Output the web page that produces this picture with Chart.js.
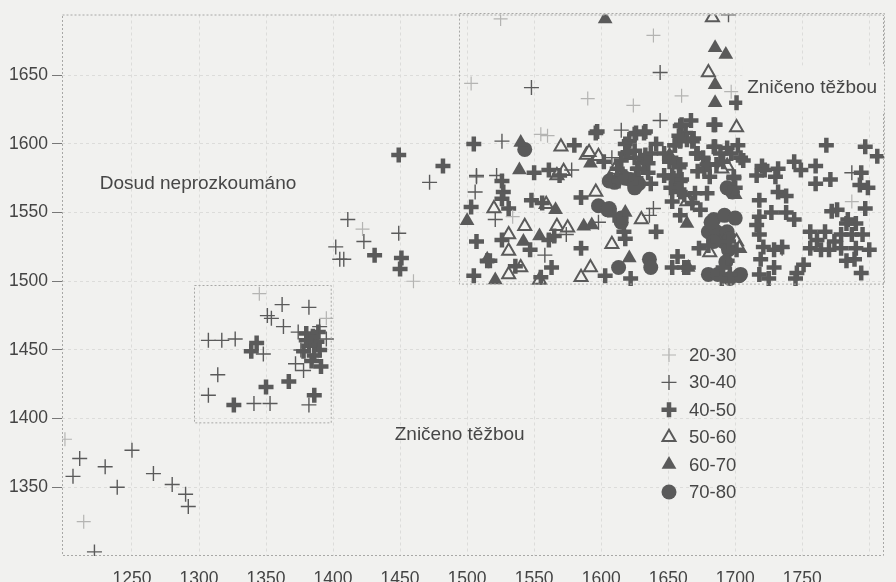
<!DOCTYPE html>
<html>
<head>
<meta charset="utf-8">
<script src="https://cdn.jsdelivr.net/npm/chart.js@4.4.0/dist/chart.umd.min.js"></script>
<style>
  body { margin: 0; background: #f1f1ef; }
  #wrap { width: 896px; height: 582px; }
</style>
</head>
<body>
<div id="wrap"><canvas id="chart" width="896" height="582"></canvas></div>
<script>
// tick labels
const xTicks = [1250, 1300, 1350, 1400, 1450, 1500, 1550, 1600, 1650, 1700, 1750, 1800];
const yTicks = [1350, 1400, 1450, 1500, 1550, 1600, 1650];

// categories (legend)
const classes = ['20-30', '30-40', '40-50', '50-60', '60-70', '70-80'];

// series values [x, y]
const s2030 = [
  [1200,1385],[1214,1325],[1345,1491],[1395,1473],[1422,1538],[1460,1500],
  [1525,1691],[1503,1644],[1590,1633],[1624,1628],[1660,1635],[1697,1638],
  [1639,1679],[1555,1607],[1560,1606],[1534,1547],[1787,1558]
];
const s3040 = [
  [1206,1358],[1211,1371],[1230,1365],[1250,1377],[1239,1350],[1266,1360],[1280,1352],
  [1290,1345],[1292,1336],[1222,1303],
  [1307,1417],[1341,1411],[1353,1411],[1362,1483],[1382,1481],[1351,1475],[1354,1473],
  [1363,1467],[1390,1467],[1307,1457],[1317,1457],[1327,1458],[1348,1447],[1314,1432],
  [1382,1410],[1374,1463],[1376,1450],[1372,1440],[1378,1435],[1395,1458],
  [1472,1572],[1507,1576],[1506,1565],[1411,1545],[1449,1535],[1402,1525],[1405,1516],
  [1408,1516],[1423,1529],
  [1695,1694],[1644,1652],[1548,1641],[1644,1617],[1615,1610],[1526,1602],[1608,1590],
  [1507,1577],[1522,1577],[1578,1581],[1787,1579],[1521,1545],[1639,1553],[1636,1548],
  [1574,1534],[1558,1519],[1598,1543],[1735,1524]
];
const s4050 = [
  [1326,1410],[1350,1423],[1367,1427],[1343,1455],[1339,1449],[1386,1417],
  [1380,1462],[1385,1460],[1388,1456],[1382,1453],[1390,1450],[1386,1446],[1378,1449],
  [1384,1442],[1391,1438],[1380,1457],[1389,1463],
  [1449,1592],[1482,1584],[1505,1600],[1503,1554],[1507,1529],[1517,1515],[1505,1504],
  [1431,1519],[1451,1517],[1450,1509],
  [1580,1599],[1596,1608],[1626,1608],[1632,1608],[1621,1602],[1659,1613],[1667,1617],
  [1663,1608],[1668,1602],[1659,1602],[1655,1599],[1685,1614],[1685,1598],[1694,1597],
  [1702,1599],[1704,1590],[1701,1630],[1768,1599],[1797,1598],[1806,1591],
  [1602,1587],[1618,1593],[1625,1590],[1632,1587],[1637,1593],[1647,1593],[1652,1590],
  [1659,1585],[1671,1593],[1676,1590],[1689,1593],[1697,1593],[1706,1588],[1686,1585],
  [1680,1585],[1720,1584],[1732,1582],[1744,1587],[1749,1581],[1760,1584],[1760,1571],
  [1771,1574],[1794,1579],[1793,1570],[1799,1568],[1797,1553],
  [1526,1573],[1527,1565],[1526,1560],[1550,1579],[1561,1581],[1569,1577],
  [1607,1574],[1613,1573],[1618,1576],[1626,1575],[1627,1582],[1635,1579],[1637,1571],
  [1647,1577],[1654,1575],[1659,1573],[1652,1568],[1659,1565],
  [1677,1582],[1681,1576],[1672,1580],
  [1699,1576],[1700,1568],[1716,1577],[1722,1581],[1730,1576],[1732,1565],[1718,1559],[1738,1562],
  [1531,1553],[1548,1559],[1556,1557],[1585,1561],[1610,1548],
  [1653,1558],[1662,1563],[1670,1564],[1679,1564],[1668,1557],[1674,1552],[1659,1548],
  [1718,1547],[1727,1550],[1738,1550],[1744,1545],[1716,1541],
  [1772,1551],[1776,1552],[1784,1545],[1790,1542],[1783,1542],
  [1526,1530],[1547,1523],[1561,1530],[1565,1533],[1585,1524],[1618,1531],[1617,1536],[1641,1536],
  [1673,1524],[1680,1526],[1695,1529],[1701,1523],
  [1718,1534],[1721,1525],[1729,1523],[1735,1525],
  [1756,1536],[1761,1530],[1767,1536],[1774,1529],[1756,1524],[1764,1523],[1770,1523],
  [1779,1534],[1787,1534],[1795,1534],[1779,1524],[1800,1523],[1790,1524],
  [1515,1515],[1536,1511],[1563,1510],[1555,1503],[1603,1504],[1622,1502],
  [1657,1518],[1653,1510],[1662,1510],[1665,1510],
  [1690,1502],[1696,1505],[1694,1515],[1691,1510],
  [1719,1516],[1729,1510],[1718,1505],[1725,1502],
  [1751,1512],[1746,1506],[1745,1502],[1789,1516],[1794,1506],[1783,1515],
  [1597,1609],[1625,1607],[1633,1609],[1618,1600],[1620,1594],[1625,1595],[1641,1600],
  [1615,1588],[1633,1592],[1635,1586],[1612,1582],[1628,1582],
  [1660,1614],[1658,1606],[1664,1603],[1669,1604],[1655,1599],[1672,1593],[1651,1587],
  [1658,1583],[1653,1577],[1660,1574],[1684,1614],[1684,1598],[1691,1587],[1679,1585],[1699,1575]
];
const s5060 = [
  [1683,1692],[1680,1652],[1701,1612],[1570,1598],[1589,1592],[1598,1591],[1591,1594],
  [1694,1584],[1690,1582],[1610,1581],[1567,1577],[1572,1580],[1520,1553],[1559,1556],
  [1596,1565],[1630,1545],[1664,1558],[1531,1534],[1543,1540],[1531,1522],[1567,1540],
  [1575,1539],[1608,1527],[1701,1529],[1703,1524],[1681,1521],[1540,1510],[1531,1505],
  [1585,1503],[1592,1510],[1554,1501]
];
const s6070 = [
  [1603,1691],[1685,1670],[1693,1665],[1685,1643],[1685,1630],[1540,1601],[1539,1581],
  [1592,1586],[1651,1592],[1500,1544],[1566,1552],[1618,1550],[1664,1542],[1542,1529],
  [1554,1533],[1587,1540],[1593,1541],[1657,1570],[1700,1563],[1515,1516],[1521,1501],
  [1621,1517],[1665,1510]
];
const s7080 = [
  [1543,1596],[1598,1555],[1605,1552],[1610,1572],[1622,1574],[1628,1571],[1615,1577],
  [1606,1573],[1618,1575],[1625,1568],[1606,1553],[1615,1546],[1615,1543],[1613,1510],
  [1636,1516],[1637,1510],[1680,1536],[1684,1545],[1692,1548],[1700,1546],[1686,1536],
  [1691,1529],[1694,1536],[1684,1529],[1695,1523],[1682,1543],[1696,1531],[1694,1568],
  [1698,1565],[1680,1505],[1703,1504],[1693,1514],[1687,1505],[1696,1502],[1704,1505]
];

// region borders [x1, y1, x2, y2] in data units
const regions = [
  [1296, 1397, 1398, 1497],
  [1494, 1498, 1811, 1695]
];
// text annotations [text, x, y] in data units (left edge, middle)
const notes = [
  ['Dosud neprozkoumáno', 1226, 1571, false],
  ['Zničeno těžbou', 1709, 1641, true],
  ['Zničeno těžbou', 1446, 1388, false]
];

const ink = '#5a5a5a';
const paper = '#f1f1ef';
const font = 'Liberation Sans, Arial, sans-serif';

function pts(arr) { return arr.map(p => ({x: p[0], y: p[1]})); }

const series = [s2030, s3040, s4050, s5060, s6070, s7080];
const styles = [
  {pointStyle: 'cross', pointRadius: 7, pointBorderWidth: 1.2, pointBorderColor: '#b4b4b2', pointBackgroundColor: '#b4b4b2'},
  {pointStyle: 'cross', pointRadius: 7.5, pointBorderWidth: 1.4, pointBorderColor: ink, pointBackgroundColor: ink},
  {pointStyle: 'cross', pointRadius: 7.5, pointBorderWidth: 4.5, pointBorderColor: ink, pointBackgroundColor: ink},
  {pointStyle: 'triangle', pointRadius: 7.5, pointBorderWidth: 2, pointBorderColor: ink, pointBackgroundColor: paper},
  {pointStyle: 'triangle', pointRadius: 8.5, pointBorderWidth: 0, pointBorderColor: ink, pointBackgroundColor: ink},
  {pointStyle: 'circle', pointRadius: 7.5, pointBorderWidth: 0, pointBorderColor: ink, pointBackgroundColor: ink}
];
const datasets = series.map((s, i) => Object.assign({
  label: classes[i],
  data: pts(s),
  showLine: false,
  pointHoverRadius: styles[i].pointRadius
}, styles[i]));

// background, region boxes, notes and the legend
const extras = {
  id: 'extras',
  beforeDraw(chart) {
    const c = chart.ctx;
    c.save();
    c.fillStyle = paper;
    c.fillRect(0, 0, chart.width, chart.height);
    c.restore();
  },
  afterDatasetsDraw(chart) {
    const c = chart.ctx, a = chart.chartArea;
    const xs = chart.scales.x, ys = chart.scales.y;
    c.save();
    c.strokeStyle = '#a8a8a6';
    c.lineWidth = 1;
    c.setLineDash([2, 2]);
    c.strokeRect(a.left + 0.5, a.top + 0.5, a.right - a.left - 1, a.bottom - a.top - 1);
    regions.forEach(r => {
      const x1 = xs.getPixelForValue(r[0]), x2 = xs.getPixelForValue(r[2]);
      const y1 = ys.getPixelForValue(r[1]), y2 = ys.getPixelForValue(r[3]);
      c.strokeRect(Math.round(x1) + 0.5, Math.round(y2) + 0.5, x2 - x1, y1 - y2);
    });
    c.setLineDash([]);
    c.font = '19px ' + font;
    c.textBaseline = 'middle';
    notes.forEach(n => {
      const x = xs.getPixelForValue(n[1]), y = ys.getPixelForValue(n[2]);
      if (n[3]) {
        c.fillStyle = paper;
        c.fillRect(x - 5, y - 22, a.right - x + 5, 46);
      }
      c.fillStyle = '#464646';
      c.fillText(n[0], x, y);
    });
    // legend
    c.font = '18.5px ' + font;
    chart.data.datasets.forEach((ds, i) => {
      const y = 355 + i * 27.4;
      c.fillStyle = ds.pointBackgroundColor;
      c.strokeStyle = ds.pointBorderColor;
      c.lineWidth = ds.pointBorderWidth;
      Chart.helpers.drawPoint(c, {pointStyle: ds.pointStyle, radius: ds.pointRadius,
        rotation: 0, borderWidth: ds.pointBorderWidth}, 669, y);
      c.fillStyle = '#464646';
      c.fillText(ds.label, 689, y + 1);
    });
    c.restore();
  }
};

new Chart(document.getElementById('chart'), {
  type: 'scatter',
  data: { datasets: datasets },
  plugins: [extras],
  options: {
    responsive: false,
    animation: false,
    events: [],
    layout: { padding: { top: 12, right: 0, left: 0, bottom: 0 } },
    plugins: { legend: { display: false }, tooltip: { enabled: false } },
    scales: {
      x: {
        type: 'linear',
        min: 1197.8,
        max: 1811,
        afterBuildTicks: s => { s.ticks = xTicks.map(v => ({value: v})); },
        afterFit: s => { s.height = 26; },
        grid: { color: '#dcdcda', lineWidth: 1, drawTicks: false },
        border: { display: false, dash: [3, 3] },
        ticks: {
          padding: 13,
          color: '#444',
          font: { family: font, size: 17.5 },
          maxRotation: 0,
          autoSkip: false,
          callback: v => v === 1800 ? '' : String(v)
        }
      },
      y: {
        type: 'linear',
        min: 1300,
        max: 1694.2,
        afterBuildTicks: s => { s.ticks = yTicks.map(v => ({value: v})); },
        afterFit: s => { s.width = 62; },
        grid: { color: '#dcdcda', lineWidth: 1, drawTicks: true, tickLength: 10, tickColor: '#777' },
        border: { display: false, dash: [3, 3] },
        ticks: {
          padding: 4,
          color: '#444',
          font: { family: font, size: 17.5 },
          autoSkip: false,
          callback: v => String(v)
        }
      }
    }
  }
});
</script>
</body>
</html>
